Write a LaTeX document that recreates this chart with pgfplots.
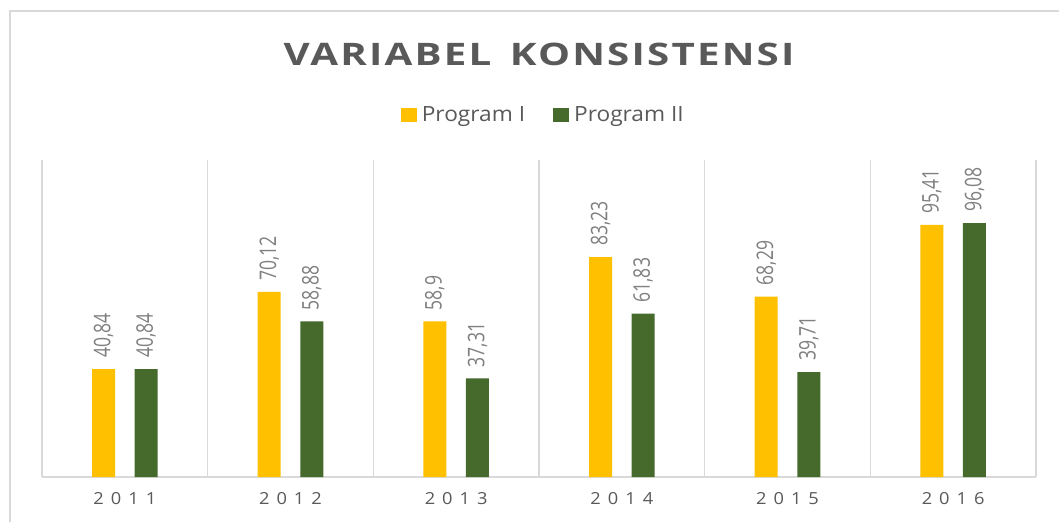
\documentclass[border=0pt]{standalone}
\usepackage{fontspec}
\setmainfont{Open Sans}
\newfontfamily\titlefont{Open Sans}[FakeStretch=1.3, LetterSpace=7]
\newfontfamily\legfont{Open Sans}[FakeStretch=1.08]
\newfontfamily\tickfont{Open Sans}[FakeStretch=1.1]
\newcommand{\tg}{\hspace{7bp}}
\usepackage{pgfplots}
\pgfplotsset{compat=1.18}
\definecolor{gold}{HTML}{FFC000}
\definecolor{dgreen}{HTML}{456A2C}
\definecolor{gridc}{HTML}{D9D9D9}
\definecolor{txt}{HTML}{595959}
\definecolor{lbl}{HTML}{808080}
\begin{document}
\begin{tikzpicture}
\useasboundingbox (0,0) rectangle (1059bp,522bp);
\fill[white] (0,0) rectangle (1059bp,522bp);
\draw[gridc, line width=2bp] (10bp,0) -- (10bp,511bp) -- (1059bp,511bp);
\node[text=txt, font=\titlefont\bfseries\fontsize{31bp}{36bp}\selectfont] at (539bp,467.8bp) {VARIABEL\hspace{6bp} KONSISTENSI};
\begin{axis}[
  at={(42bp,45bp)}, anchor=south west,
  scale only axis, width=994bp, height=317bp,
  xmin=-0.5, xmax=5.5, ymin=0, ymax=120,
  hide y axis,
  axis x line*=bottom,
  axis line style={gridc, line width=1.2bp, -},
  xtick={0,1,2,3,4,5},
  xticklabels={2\tg0\tg1\tg1,2\tg0\tg1\tg2,2\tg0\tg1\tg3,2\tg0\tg1\tg4,2\tg0\tg1\tg5,2\tg0\tg1\tg6},
  minor xtick={-0.5,0.5,1.5,2.5,3.5,4.5,5.5},
  xminorgrids=true,
  minor grid style={gridc, line width=1.2bp},
  major tick length=0pt, minor tick length=0pt,
  xticklabel style={anchor=center, yshift=-21.5bp, text=txt, font=\tickfont\fontsize{16.6bp}{20bp}\selectfont},
  ybar, bar width=23bp,
  clip=false,
  /pgf/number format/assume math mode=true,
  /pgf/number format/use comma,
  /pgf/number format/fixed,
  /pgf/number format/precision=2,
  nodes near coords={\scalebox{1}[1.3]{\pgfmathprintnumber\pgfplotspointmeta}},
  nodes near coords style={rotate=90, anchor=west, inner xsep=11bp, inner ysep=0pt, text=lbl, font=\fontsize{17.6bp}{20bp}\selectfont},
  legend columns=2,
  legend style={draw=none, fill=none, at={(0.5043,1.1429)}, anchor=center,
    font=\legfont\fontsize{21bp}{24bp}\selectfont, text=txt,
    /tikz/every even column/.append style={column sep=26bp},
    inner sep=0pt},
  legend image code/.code={\fill[#1] (0bp,-7bp) rectangle (16bp,7bp); \path (19bp,0bp);},
]
\addplot[draw=none, fill=gold, bar shift=-21.3bp] coordinates {(0,40.84) (1,70.12) (2,58.9) (3,83.23) (4,68.29) (5,95.41)};
\addlegendentry{Program I}
\addplot[draw=none, fill=dgreen, bar shift=21.3bp] coordinates {(0,40.84) (1,58.88) (2,37.31) (3,61.83) (4,39.71) (5,96.08)};
\addlegendentry{Program II}
\end{axis}
\end{tikzpicture}
\end{document}
